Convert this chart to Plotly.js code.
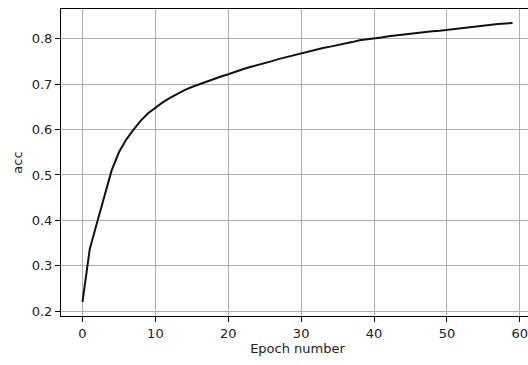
<!DOCTYPE html>
<html>
<head>
<meta charset="utf-8">
<script src="https://cdn.plot.ly/plotly-3.0.1.min.js"></script>
<style>
html,body{margin:0;padding:0;overflow:hidden;background:#fff;}
#chart{width:540px;height:365px;}
</style>
</head>
<body>
<div id="chart"></div>
<script>
const epochs = Array.from({length: 60}, (_, i) => i);
const acc = [
  0.220, 0.337, 0.395, 0.453, 0.510, 0.550, 0.578, 0.600, 0.620, 0.636,
  0.649, 0.660, 0.670, 0.679, 0.687, 0.694, 0.700, 0.706, 0.711, 0.717,
  0.722, 0.728, 0.733, 0.738, 0.742, 0.747, 0.751, 0.756, 0.760, 0.765,
  0.769, 0.772, 0.776, 0.780, 0.783, 0.786, 0.789, 0.793, 0.797, 0.799,
  0.800, 0.803, 0.806, 0.808, 0.810, 0.811, 0.814, 0.815, 0.817, 0.818,
  0.820, 0.822, 0.824, 0.826, 0.828, 0.829, 0.831, 0.833, 0.834, 0.835
];
const xTicks = [0, 10, 20, 30, 40, 50, 60];
const yTicks = [0.2, 0.3, 0.4, 0.5, 0.6, 0.7, 0.8];
const xLabel = 'Epoch number';
const yLabel = 'acc';

const font = {family: 'DejaVu Sans, sans-serif', size: 13, color: '#222222'};

Plotly.newPlot('chart', [{
  x: epochs,
  y: acc,
  type: 'scatter',
  mode: 'lines',
  line: {color: '#111111', width: 2},
  hoverinfo: 'skip'
}], {
  width: 540,
  height: 365,
  margin: {l: 61, r: 6, t: 9, b: 49, pad: 0},
  paper_bgcolor: '#ffffff',
  plot_bgcolor: '#ffffff',
  font: font,
  showlegend: false,
  xaxis: {
    range: [-2.95, 61.95],
    tickvals: xTicks,
    ticktext: xTicks.map(String),
    ticks: 'outside', ticklen: 5, tickwidth: 1, tickcolor: '#000',
    showline: true, linecolor: '#000', linewidth: 1, mirror: true,
    showgrid: true, gridcolor: '#b0b0b0', gridwidth: 1,
    zeroline: false,
    automargin: false,
    tickfont: font,
    title: {text: xLabel, font: font, standoff: 2}
  },
  yaxis: {
    range: [0.189, 0.866],
    tickvals: yTicks,
    ticktext: yTicks.map(v => v.toFixed(1)),
    ticks: 'outside', ticklen: 5, tickwidth: 1, tickcolor: '#000',
    showline: true, linecolor: '#000', linewidth: 1, mirror: true,
    showgrid: true, gridcolor: '#b0b0b0', gridwidth: 1,
    zeroline: false,
    automargin: false,
    tickfont: font,
    title: {text: yLabel, font: font, standoff: 6}
  }
}, {staticPlot: true, displayModeBar: false});
</script>
</body>
</html>
